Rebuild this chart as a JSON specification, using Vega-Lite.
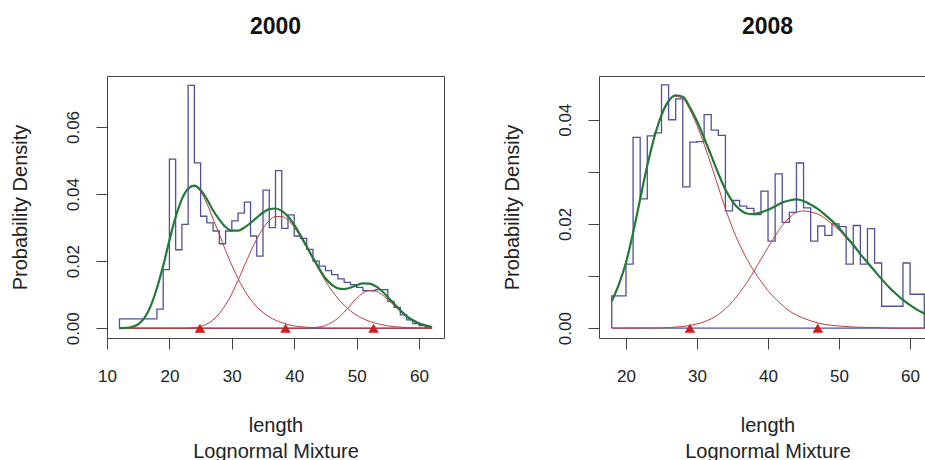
{
  "$schema": "https://vega.github.io/schema/vega-lite/v6.json",
  "padding": {"left": 9, "top": 15, "right": -11, "bottom": -2},
  "spacing": 155,
  "bounds": "flush",
  "background": "white",
  "config": {
    "view": {"stroke": "#444", "strokeWidth": 1},
    "font": "Liberation Sans",
    "axis": {"grid": false, "domain": false, "tickColor": "#444", "tickSize": 11, "labelFont": "Liberation Sans", "labelFontSize": 17, "labelColor": "#222", "labelFlush": false, "labelOverlap": false, "titleFont": "Liberation Sans", "titleFontSize": 20, "titleFontWeight": "normal", "titleColor": "#222"},
    "title": {"font": "Liberation Sans", "fontSize": 23, "fontWeight": "bold", "color": "#111", "frame": "group", "anchor": "middle", "offset": 37}
  },
  "datasets": {
    "hist2000": [
      {"i": 0, "x": 12, "d": 0}, {"i": 1, "x": 12, "d": 0.0028}, {"i": 2, "x": 18, "d": 0.0057}, {"i": 3, "x": 19, "d": 0.0175},
      {"i": 4, "x": 20, "d": 0.0504}, {"i": 5, "x": 21, "d": 0.0234}, {"i": 6, "x": 22, "d": 0.0310}, {"i": 7, "x": 23, "d": 0.0724},
      {"i": 8, "x": 24, "d": 0.0493}, {"i": 9, "x": 25, "d": 0.0334}, {"i": 10, "x": 26, "d": 0.0314}, {"i": 11, "x": 27, "d": 0.0290},
      {"i": 12, "x": 28, "d": 0.0252}, {"i": 13, "x": 29, "d": 0.0290}, {"i": 14, "x": 30, "d": 0.0320}, {"i": 15, "x": 31, "d": 0.0343},
      {"i": 16, "x": 32, "d": 0.0376}, {"i": 17, "x": 33, "d": 0.0275}, {"i": 18, "x": 34, "d": 0.0215}, {"i": 19, "x": 35, "d": 0.0412},
      {"i": 20, "x": 36, "d": 0.0300}, {"i": 21, "x": 37, "d": 0.0470}, {"i": 22, "x": 38, "d": 0.0298}, {"i": 23, "x": 39, "d": 0.0338},
      {"i": 24, "x": 40, "d": 0.0275}, {"i": 25, "x": 41, "d": 0.0268}, {"i": 26, "x": 42, "d": 0.0235}, {"i": 27, "x": 43, "d": 0.0200},
      {"i": 28, "x": 44, "d": 0.0185}, {"i": 29, "x": 45, "d": 0.0172}, {"i": 30, "x": 46, "d": 0.0160}, {"i": 31, "x": 47, "d": 0.0147},
      {"i": 32, "x": 48, "d": 0.0137}, {"i": 33, "x": 49, "d": 0.0130}, {"i": 34, "x": 50, "d": 0.0122}, {"i": 35, "x": 51, "d": 0.0112},
      {"i": 36, "x": 52, "d": 0.0112}, {"i": 37, "x": 53, "d": 0.0115}, {"i": 38, "x": 54, "d": 0.0115}, {"i": 39, "x": 55, "d": 0.0080},
      {"i": 40, "x": 56, "d": 0.0062}, {"i": 41, "x": 57, "d": 0.0040}, {"i": 42, "x": 58, "d": 0.0025}, {"i": 43, "x": 59, "d": 0.0014},
      {"i": 44, "x": 60, "d": 0.0008}, {"i": 45, "x": 61, "d": 0.0004}, {"i": 46, "x": 62, "d": 0}, {"i": 47, "x": 12, "d": 0}
    ],
    "hist2008": [
      {"i": 0, "x": 18, "d": 0}, {"i": 1, "x": 18, "d": 0.0062}, {"i": 2, "x": 20, "d": 0.0123}, {"i": 3, "x": 21, "d": 0.0366},
      {"i": 4, "x": 22, "d": 0.0248}, {"i": 5, "x": 23, "d": 0.0369}, {"i": 6, "x": 24, "d": 0.0375}, {"i": 7, "x": 25, "d": 0.0467},
      {"i": 8, "x": 26, "d": 0.0400}, {"i": 9, "x": 27, "d": 0.0440}, {"i": 10, "x": 28, "d": 0.0271}, {"i": 11, "x": 29, "d": 0.0357},
      {"i": 12, "x": 30, "d": 0.0358}, {"i": 13, "x": 31, "d": 0.0410}, {"i": 14, "x": 32, "d": 0.0380}, {"i": 15, "x": 33, "d": 0.0370},
      {"i": 16, "x": 34, "d": 0.0225}, {"i": 17, "x": 35, "d": 0.0245}, {"i": 18, "x": 36, "d": 0.0234}, {"i": 19, "x": 37, "d": 0.0230},
      {"i": 20, "x": 38, "d": 0.0218}, {"i": 21, "x": 39, "d": 0.0263}, {"i": 22, "x": 40, "d": 0.0167}, {"i": 23, "x": 41, "d": 0.0296},
      {"i": 24, "x": 42, "d": 0.0203}, {"i": 25, "x": 43, "d": 0.0222}, {"i": 26, "x": 44, "d": 0.0317}, {"i": 27, "x": 45, "d": 0.0231},
      {"i": 28, "x": 46, "d": 0.0167}, {"i": 29, "x": 47, "d": 0.0196}, {"i": 30, "x": 48, "d": 0.0178}, {"i": 31, "x": 49, "d": 0.0200},
      {"i": 32, "x": 50, "d": 0.0195}, {"i": 33, "x": 51, "d": 0.0123}, {"i": 34, "x": 52, "d": 0.0197}, {"i": 35, "x": 53, "d": 0.0123},
      {"i": 36, "x": 54, "d": 0.0191}, {"i": 37, "x": 55, "d": 0.0125}, {"i": 38, "x": 56, "d": 0.0042}, {"i": 39, "x": 59, "d": 0.0125},
      {"i": 40, "x": 60, "d": 0.0065}, {"i": 41, "x": 62, "d": 0}, {"i": 42, "x": 18, "d": 0}
    ],
    "comp2000": [
      {"comp": 1, "x": 12, "d": 0}, {"comp": 1, "x": 13, "d": 0.0001}, {"comp": 1, "x": 14, "d": 0.0004}, {"comp": 1, "x": 15, "d": 0.0012},
      {"comp": 1, "x": 16, "d": 0.0031}, {"comp": 1, "x": 17, "d": 0.0066}, {"comp": 1, "x": 18, "d": 0.0120}, {"comp": 1, "x": 19, "d": 0.0186},
      {"comp": 1, "x": 20, "d": 0.0262}, {"comp": 1, "x": 21, "d": 0.0332}, {"comp": 1, "x": 22, "d": 0.0385}, {"comp": 1, "x": 23, "d": 0.0416},
      {"comp": 1, "x": 24, "d": 0.0423}, {"comp": 1, "x": 25, "d": 0.0407}, {"comp": 1, "x": 26, "d": 0.0372}, {"comp": 1, "x": 27, "d": 0.0326},
      {"comp": 1, "x": 28, "d": 0.0280}, {"comp": 1, "x": 29, "d": 0.0232}, {"comp": 1, "x": 30, "d": 0.0188}, {"comp": 1, "x": 31, "d": 0.0148},
      {"comp": 1, "x": 32, "d": 0.0114}, {"comp": 1, "x": 33, "d": 0.0086}, {"comp": 1, "x": 34, "d": 0.0064}, {"comp": 1, "x": 35, "d": 0.0047},
      {"comp": 1, "x": 36, "d": 0.0034}, {"comp": 1, "x": 37, "d": 0.0024}, {"comp": 1, "x": 38, "d": 0.0017}, {"comp": 1, "x": 39, "d": 0.0011},
      {"comp": 1, "x": 40, "d": 0.0007}, {"comp": 1, "x": 41, "d": 0.0005}, {"comp": 1, "x": 42, "d": 0.0003}, {"comp": 1, "x": 43, "d": 0.0002},
      {"comp": 1, "x": 44, "d": 0.0001}, {"comp": 1, "x": 46, "d": 0}, {"comp": 1, "x": 62, "d": 0},
      {"comp": 2, "x": 12, "d": 0}, {"comp": 2, "x": 22, "d": 0}, {"comp": 2, "x": 24, "d": 0.0002}, {"comp": 2, "x": 25, "d": 0.0005},
      {"comp": 2, "x": 26, "d": 0.0013}, {"comp": 2, "x": 27, "d": 0.0025}, {"comp": 2, "x": 28, "d": 0.0044}, {"comp": 2, "x": 29, "d": 0.0070},
      {"comp": 2, "x": 30, "d": 0.0103}, {"comp": 2, "x": 31, "d": 0.0143}, {"comp": 2, "x": 32, "d": 0.0186}, {"comp": 2, "x": 33, "d": 0.0228},
      {"comp": 2, "x": 34, "d": 0.0266}, {"comp": 2, "x": 35, "d": 0.0298}, {"comp": 2, "x": 36, "d": 0.0321}, {"comp": 2, "x": 37, "d": 0.0333},
      {"comp": 2, "x": 38, "d": 0.0333}, {"comp": 2, "x": 39, "d": 0.0322}, {"comp": 2, "x": 40, "d": 0.0301}, {"comp": 2, "x": 41, "d": 0.0272},
      {"comp": 2, "x": 42, "d": 0.0240}, {"comp": 2, "x": 43, "d": 0.0206}, {"comp": 2, "x": 44, "d": 0.0173}, {"comp": 2, "x": 45, "d": 0.0141},
      {"comp": 2, "x": 46, "d": 0.0113}, {"comp": 2, "x": 47, "d": 0.0089}, {"comp": 2, "x": 48, "d": 0.0069}, {"comp": 2, "x": 49, "d": 0.0052},
      {"comp": 2, "x": 50, "d": 0.0039}, {"comp": 2, "x": 51, "d": 0.0029}, {"comp": 2, "x": 52, "d": 0.0021}, {"comp": 2, "x": 53, "d": 0.0015},
      {"comp": 2, "x": 54, "d": 0.0011}, {"comp": 2, "x": 55, "d": 0.0007}, {"comp": 2, "x": 56, "d": 0.0005}, {"comp": 2, "x": 58, "d": 0.0002},
      {"comp": 2, "x": 60, "d": 0.0001}, {"comp": 2, "x": 62, "d": 0},
      {"comp": 3, "x": 12, "d": 0}, {"comp": 3, "x": 40, "d": 0}, {"comp": 3, "x": 42, "d": 0.00005}, {"comp": 3, "x": 44, "d": 0.0004},
      {"comp": 3, "x": 45, "d": 0.0008}, {"comp": 3, "x": 46, "d": 0.0017}, {"comp": 3, "x": 47, "d": 0.0030}, {"comp": 3, "x": 48, "d": 0.0048},
      {"comp": 3, "x": 49, "d": 0.0069}, {"comp": 3, "x": 50, "d": 0.0089}, {"comp": 3, "x": 51, "d": 0.0105}, {"comp": 3, "x": 52, "d": 0.0112},
      {"comp": 3, "x": 53, "d": 0.0111}, {"comp": 3, "x": 54, "d": 0.0101}, {"comp": 3, "x": 55, "d": 0.0086}, {"comp": 3, "x": 56, "d": 0.0068},
      {"comp": 3, "x": 57, "d": 0.0050}, {"comp": 3, "x": 58, "d": 0.0034}, {"comp": 3, "x": 59, "d": 0.0022}, {"comp": 3, "x": 60, "d": 0.0014},
      {"comp": 3, "x": 61, "d": 0.0008}, {"comp": 3, "x": 62, "d": 0.0004}
    ],
    "total2000": [
      {"x": 12, "d": 0.0000}, {"x": 13, "d": 0.0001}, {"x": 14, "d": 0.0004}, {"x": 15, "d": 0.0012}, {"x": 16, "d": 0.0031},
      {"x": 17, "d": 0.0066}, {"x": 18, "d": 0.0120}, {"x": 19, "d": 0.0186}, {"x": 20, "d": 0.0262}, {"x": 21, "d": 0.0332},
      {"x": 22, "d": 0.0385}, {"x": 23, "d": 0.0416}, {"x": 24, "d": 0.0425}, {"x": 25, "d": 0.0412}, {"x": 26, "d": 0.0385},
      {"x": 27, "d": 0.0351}, {"x": 28, "d": 0.0324}, {"x": 29, "d": 0.0302}, {"x": 30, "d": 0.0291}, {"x": 31, "d": 0.0291},
      {"x": 32, "d": 0.0300}, {"x": 33, "d": 0.0314}, {"x": 34, "d": 0.0330}, {"x": 35, "d": 0.0345}, {"x": 36, "d": 0.0355},
      {"x": 37, "d": 0.0357}, {"x": 38, "d": 0.0350}, {"x": 39, "d": 0.0333}, {"x": 40, "d": 0.0308}, {"x": 41, "d": 0.0277},
      {"x": 42, "d": 0.0244}, {"x": 43, "d": 0.0210}, {"x": 44, "d": 0.0178}, {"x": 45, "d": 0.0149}, {"x": 46, "d": 0.0130},
      {"x": 47, "d": 0.0119}, {"x": 48, "d": 0.0117}, {"x": 49, "d": 0.0121}, {"x": 50, "d": 0.0128}, {"x": 51, "d": 0.0134},
      {"x": 52, "d": 0.0133}, {"x": 53, "d": 0.0126}, {"x": 54, "d": 0.0112}, {"x": 55, "d": 0.0093}, {"x": 56, "d": 0.0073},
      {"x": 57, "d": 0.0054}, {"x": 58, "d": 0.0036}, {"x": 59, "d": 0.0024}, {"x": 60, "d": 0.0015}, {"x": 61, "d": 0.0009},
      {"x": 62, "d": 0.0004}
    ],
    "comp2008": [
      {"comp": 1, "x": 18, "d": 0.0052}, {"comp": 1, "x": 19, "d": 0.0084}, {"comp": 1, "x": 20, "d": 0.0126}, {"comp": 1, "x": 21, "d": 0.0183},
      {"comp": 1, "x": 22, "d": 0.0248}, {"comp": 1, "x": 23, "d": 0.0312}, {"comp": 1, "x": 24, "d": 0.0367}, {"comp": 1, "x": 25, "d": 0.0409},
      {"comp": 1, "x": 26, "d": 0.0435}, {"comp": 1, "x": 27, "d": 0.0445}, {"comp": 1, "x": 28, "d": 0.0441}, {"comp": 1, "x": 29, "d": 0.0419},
      {"comp": 1, "x": 30, "d": 0.0389}, {"comp": 1, "x": 31, "d": 0.0353}, {"comp": 1, "x": 32, "d": 0.0313}, {"comp": 1, "x": 33, "d": 0.0271},
      {"comp": 1, "x": 34, "d": 0.0229}, {"comp": 1, "x": 35, "d": 0.0192}, {"comp": 1, "x": 36, "d": 0.0160}, {"comp": 1, "x": 37, "d": 0.0133},
      {"comp": 1, "x": 38, "d": 0.0110}, {"comp": 1, "x": 39, "d": 0.0090}, {"comp": 1, "x": 40, "d": 0.0072}, {"comp": 1, "x": 41, "d": 0.0057},
      {"comp": 1, "x": 42, "d": 0.0044}, {"comp": 1, "x": 43, "d": 0.0033}, {"comp": 1, "x": 44, "d": 0.0025}, {"comp": 1, "x": 45, "d": 0.0019},
      {"comp": 1, "x": 46, "d": 0.0014}, {"comp": 1, "x": 47, "d": 0.0010}, {"comp": 1, "x": 48, "d": 0.0007}, {"comp": 1, "x": 50, "d": 0.0004},
      {"comp": 1, "x": 52, "d": 0.0002}, {"comp": 1, "x": 55, "d": 0.0001}, {"comp": 1, "x": 58, "d": 0}, {"comp": 1, "x": 66, "d": 0},
      {"comp": 2, "x": 18, "d": 0}, {"comp": 2, "x": 25, "d": 0.00005}, {"comp": 2, "x": 26, "d": 0.0001}, {"comp": 2, "x": 27, "d": 0.0002},
      {"comp": 2, "x": 28, "d": 0.0003}, {"comp": 2, "x": 29, "d": 0.0005}, {"comp": 2, "x": 30, "d": 0.0008}, {"comp": 2, "x": 31, "d": 0.0012},
      {"comp": 2, "x": 32, "d": 0.0018}, {"comp": 2, "x": 33, "d": 0.0026}, {"comp": 2, "x": 34, "d": 0.0037}, {"comp": 2, "x": 35, "d": 0.0051},
      {"comp": 2, "x": 36, "d": 0.0068}, {"comp": 2, "x": 37, "d": 0.0087}, {"comp": 2, "x": 38, "d": 0.0109}, {"comp": 2, "x": 39, "d": 0.0132},
      {"comp": 2, "x": 40, "d": 0.0155}, {"comp": 2, "x": 41, "d": 0.0177}, {"comp": 2, "x": 42, "d": 0.0197}, {"comp": 2, "x": 43, "d": 0.0212},
      {"comp": 2, "x": 44, "d": 0.0222}, {"comp": 2, "x": 45, "d": 0.0225}, {"comp": 2, "x": 46, "d": 0.0223}, {"comp": 2, "x": 47, "d": 0.0219},
      {"comp": 2, "x": 48, "d": 0.0211}, {"comp": 2, "x": 49, "d": 0.0200}, {"comp": 2, "x": 50, "d": 0.0188}, {"comp": 2, "x": 51, "d": 0.0173},
      {"comp": 2, "x": 52, "d": 0.0158}, {"comp": 2, "x": 53, "d": 0.0141}, {"comp": 2, "x": 54, "d": 0.0125}, {"comp": 2, "x": 55, "d": 0.0109},
      {"comp": 2, "x": 56, "d": 0.0094}, {"comp": 2, "x": 57, "d": 0.0079}, {"comp": 2, "x": 58, "d": 0.0066}, {"comp": 2, "x": 59, "d": 0.0054},
      {"comp": 2, "x": 60, "d": 0.0044}, {"comp": 2, "x": 61, "d": 0.0035}, {"comp": 2, "x": 62, "d": 0.0028}, {"comp": 2, "x": 63, "d": 0.0021},
      {"comp": 2, "x": 64, "d": 0.0016}, {"comp": 2, "x": 65, "d": 0.0012}, {"comp": 2, "x": 66, "d": 0.0009}
    ],
    "total2008": [
      {"x": 18, "d": 0.0052}, {"x": 19, "d": 0.0084}, {"x": 20, "d": 0.0126}, {"x": 21, "d": 0.0183}, {"x": 22, "d": 0.0248},
      {"x": 23, "d": 0.0312}, {"x": 24, "d": 0.0367}, {"x": 25, "d": 0.0409}, {"x": 26, "d": 0.0436}, {"x": 27, "d": 0.0447},
      {"x": 28, "d": 0.0444}, {"x": 29, "d": 0.0424}, {"x": 30, "d": 0.0397}, {"x": 31, "d": 0.0365}, {"x": 32, "d": 0.0331},
      {"x": 33, "d": 0.0297}, {"x": 34, "d": 0.0266}, {"x": 35, "d": 0.0243}, {"x": 36, "d": 0.0228}, {"x": 37, "d": 0.0220},
      {"x": 38, "d": 0.0219}, {"x": 39, "d": 0.0222}, {"x": 40, "d": 0.0227}, {"x": 41, "d": 0.0234}, {"x": 42, "d": 0.0241},
      {"x": 43, "d": 0.0245}, {"x": 44, "d": 0.0247}, {"x": 45, "d": 0.0244}, {"x": 46, "d": 0.0237}, {"x": 47, "d": 0.0229},
      {"x": 48, "d": 0.0218}, {"x": 49, "d": 0.0206}, {"x": 50, "d": 0.0192}, {"x": 51, "d": 0.0176}, {"x": 52, "d": 0.0160},
      {"x": 53, "d": 0.0142}, {"x": 54, "d": 0.0126}, {"x": 55, "d": 0.0110}, {"x": 56, "d": 0.0094}, {"x": 57, "d": 0.0079},
      {"x": 58, "d": 0.0066}, {"x": 59, "d": 0.0054}, {"x": 60, "d": 0.0044}, {"x": 61, "d": 0.0035}, {"x": 62, "d": 0.0028},
      {"x": 63, "d": 0.0021}, {"x": 64, "d": 0.0016}, {"x": 65, "d": 0.0012}, {"x": 66, "d": 0.0009}
    ],
    "means2000": [{"x": 24.9, "d": 0}, {"x": 38.6, "d": 0}, {"x": 52.7, "d": 0}],
    "means2008": [{"x": 29.0, "d": 0}, {"x": 47.0, "d": 0}]
  },
  "hconcat": [
    {
      "width": 337,
      "height": 262,
      "title": {"text": "2000"},
      "encoding": {
        "x": {"field": "x", "type": "quantitative", "scale": {"domain": [10, 64], "nice": false, "zero": false},
          "axis": {"values": [10, 20, 30, 40, 50, 60], "format": "d", "labelPadding": 19, "title": ["length", "Lognormal Mixture"], "titleX": 168.5, "titleY": 93, "titleAlign": "center", "titleBaseline": "alphabetic", "titleLineHeight": 26}},
        "y": {"field": "d", "type": "quantitative", "scale": {"domain": [-0.0029, 0.0752], "nice": false, "zero": false},
          "axis": {"values": [0, 0.02, 0.04, 0.06], "format": ".2f", "labelAngle": -90, "labelAlign": "center", "labelBaseline": "middle", "labelPadding": 23, "title": "Probability Density", "titleX": -87, "titleY": 131, "titleAngle": -90, "titleAlign": "center", "titleBaseline": "middle"}}
      },
      "layer": [
        {"data": {"name": "hist2000"}, "mark": {"type": "line", "interpolate": "step-after", "color": "#50509e", "strokeWidth": 1.3, "clip": true}, "encoding": {"order": {"field": "i", "type": "quantitative"}}},
        {"data": {"name": "comp2000"}, "mark": {"type": "line", "interpolate": "monotone", "color": "#c43c3c", "strokeWidth": 1, "clip": true}, "encoding": {"detail": {"field": "comp", "type": "nominal"}}},
        {"data": {"name": "total2000"}, "mark": {"type": "line", "interpolate": "monotone", "color": "#237a37", "strokeWidth": 2.2, "clip": true}, "encoding": {}},
        {"data": {"name": "means2000"}, "mark": {"type": "point", "shape": "triangle-up", "filled": true, "color": "#d01c1c", "opacity": 1, "size": 110}, "encoding": {}}
      ]
    },
    {
      "width": 337,
      "height": 262,
      "title": {"text": "2008"},
      "encoding": {
        "x": {"field": "x", "type": "quantitative", "scale": {"domain": [16.2, 63.65], "nice": false, "zero": false},
          "axis": {"values": [20, 30, 40, 50, 60], "format": "d", "labelPadding": 19, "title": ["length", "Lognormal Mixture"], "titleX": 168.5, "titleY": 93, "titleAlign": "center", "titleBaseline": "alphabetic", "titleLineHeight": 26}},
        "y": {"field": "d", "type": "quantitative", "scale": {"domain": [-0.0019, 0.0484], "nice": false, "zero": false},
          "axis": {"values": [0, 0.01, 0.02, 0.03, 0.04], "labelExpr": "round(datum.value * 100) % 2 === 0 ? format(datum.value, '.2f') : ''", "labelAngle": -90, "labelAlign": "center", "labelBaseline": "middle", "labelPadding": 23, "title": "Probability Density", "titleX": -87, "titleY": 131, "titleAngle": -90, "titleAlign": "center", "titleBaseline": "middle"}}
      },
      "layer": [
        {"data": {"name": "hist2008"}, "mark": {"type": "line", "interpolate": "step-after", "color": "#50509e", "strokeWidth": 1.3, "clip": true}, "encoding": {"order": {"field": "i", "type": "quantitative"}}},
        {"data": {"name": "comp2008"}, "mark": {"type": "line", "interpolate": "monotone", "color": "#c43c3c", "strokeWidth": 1, "clip": true}, "encoding": {"detail": {"field": "comp", "type": "nominal"}}},
        {"data": {"name": "total2008"}, "mark": {"type": "line", "interpolate": "monotone", "color": "#237a37", "strokeWidth": 2.2, "clip": true}, "encoding": {}},
        {"data": {"name": "means2008"}, "mark": {"type": "point", "shape": "triangle-up", "filled": true, "color": "#d01c1c", "opacity": 1, "size": 110}, "encoding": {}}
      ]
    }
  ]
}
